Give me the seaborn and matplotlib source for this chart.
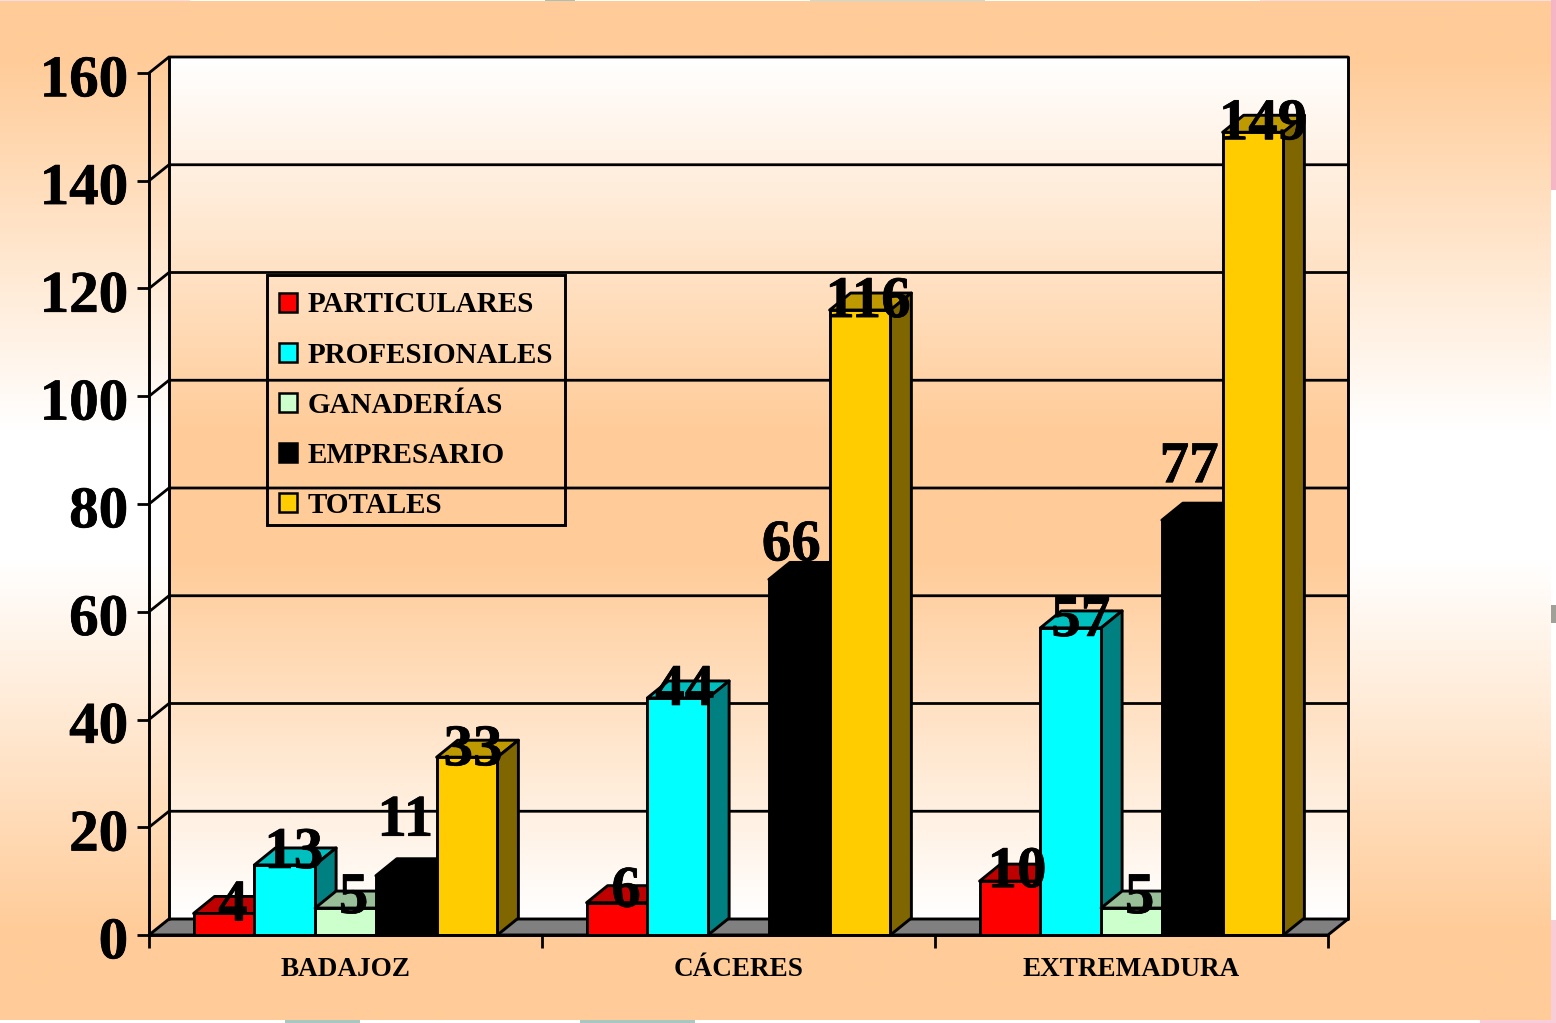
import numpy as np
import pandas as pd
import matplotlib
matplotlib.use("Agg")
import matplotlib.pyplot as plt
import matplotlib.patheffects as pe
import seaborn as sns
from matplotlib.colors import LinearSegmentedColormap, to_rgb
from matplotlib.patches import Patch, Polygon, Rectangle
from matplotlib.transforms import ScaledTranslation

provinces = ["BADAJOZ", "CÁCERES", "EXTREMADURA"]
series_names = ["PARTICULARES", "PROFESIONALES", "GANADERÍAS", "EMPRESARIO", "TOTALES"]
particulares = [4, 6, 10]
profesionales = [13, 44, 57]
ganaderias = [5, 0, 5]
empresario = [11, 66, 77]
totales = [33, 116, 149]
y_ticks = [0, 20, 40, 60, 80, 100, 120, 140, 160]

bar_colors = ["#FF0000", "#00FFFF", "#CCFFCC", "#000000", "#FFCC00"]
peach = "#FFCC99"

W, H = 1556, 1023
PX_X = 393.0        # pixels per category
PX_Y = 5.3875       # pixels per unit of value
DX = 20 / PX_X      # depth of the fake 3D, in data units
DY = 16 / PX_Y
BAR_DX = 21 / PX_X  # bars stick out slightly more than the walls
BAR_DY = 17 / PX_Y

# label nudges in pixels from the front top centre of each bar
label_dx = [[9, 9, 8, -1, 6], [9, 7, 0, -8, 8], [7, 10, 8, -3, 10]]
label_dy = [[7, 11, 9, 54, 6], [10, 7, 0, 33, 7], [8, 6, 9, 52, 7]]

sns.set_theme(style="white")
plt.rcParams["font.family"] = ["Liberation Serif", "DejaVu Serif"]
plt.rcParams["font.weight"] = "bold"
heavy = [pe.withStroke(linewidth=0.5, foreground="black")]

df = pd.DataFrame({
    "provincia": provinces * 5,
    "serie": [s for s in series_names for _ in provinces],
    "valor": particulares + profesionales + ganaderias + empresario + totales,
})

fig = plt.figure(figsize=(W / 100, H / 100), dpi=100, facecolor="white")

# slide background, peach -> white -> peach
bg = fig.add_axes([0, 0, 1, 1], zorder=0)
bg.axis("off")
ys = np.arange(1, 1021)
white_part = np.interp(ys, [0, 60, 430, 560, 930, 1020], [0, 0, 1, 1, 0, 0])
peach_rgb = np.array(to_rgb(peach))
panel = (peach_rgb + (1 - peach_rgb) * white_part[:, None])[:, None, :]
bg.imshow(panel, extent=(0, 1551, 1020, 1), aspect="auto")
bg.set_xlim(0, W)
bg.set_ylim(H, 0)
# bits of the picture behind the slide that show at the edges
for x0, y0, w, h, c in [(1260, 0, 296, 1, "#FBDDE6"), (0, 0, 190, 1, "#FBDDE6"),
                        (810, 0, 175, 1, "#C5DADA"), (545, 0, 30, 1, "#A8C0BC"),
                        (1551, 0, 5, 190, "#F6B4C8"), (1551, 605, 5, 18, "#A0A098"),
                        (1551, 920, 5, 103, "#F9CCDA"), (285, 1020, 75, 3, "#A8C6C2"),
                        (580, 1020, 115, 3, "#A8C6C2"), (1480, 1020, 76, 3, "#F9CCDA")]:
    bg.add_patch(Rectangle((x0, y0), w, h, fc=c, ec="none"))

ax = fig.add_axes([149 / W, 1 - 935 / H, (1328 - 149) / W, (935 - 73) / H], zorder=1)
ax.patch.set_alpha(0)

sns.barplot(data=df, x="provincia", y="valor", hue="serie", order=provinces,
            hue_order=series_names, palette=bar_colors, saturation=1,
            width=0.773, gap=0, edgecolor="black", linewidth=2.1, legend=False, ax=ax)

x0, x1, top = -0.5, 2.5, 160

# back wall has the opposite gradient to the slide, the side wall is see-through
wall_cmap = LinearSegmentedColormap.from_list(
    "wall", [(0, "#FFFFFF"), (0.434, peach), (0.585, peach), (1, "#FFFFFF")])
grad = np.linspace(0, 1, 400)[:, None]
ax.imshow(grad, cmap=wall_cmap, aspect="auto", zorder=0.5, clip_on=False,
          extent=(x0 + DX, x1 + DX, DY, top + DY))

# floor
ax.add_patch(Polygon([(x0, 0), (x1, 0), (x1 + DX, DY), (x0 + DX, DY)], closed=True,
                     fc="#808080", ec="black", lw=2.1, zorder=1, clip_on=False))

# gridlines run along the side wall and the back wall
for v in y_ticks[1:]:
    ax.plot([x0, x0 + DX, x1 + DX], [v, v + DY, v + DY], color="black", lw=2,
            zorder=1.2, clip_on=False, solid_joinstyle="miter")
ax.plot([x0 + DX, x0 + DX], [DY, top + DY], color="black", lw=2.1, zorder=1.2, clip_on=False)
ax.plot([x1 + DX, x1 + DX], [DY, top + DY], color="black", lw=2.1, zorder=1.2, clip_on=False)

# extrude the seaborn bars, left to right so each one hides the previous side face
for i, cont in enumerate(ax.containers):
    shade_color = np.array(to_rgb(bar_colors[i]))
    for j, bar in enumerate(cont):
        val = bar.get_height()
        z = 3 + j * 10 + i
        if val == 0:
            bar.set_visible(False)
            continue
        l = bar.get_x()
        r = l + bar.get_width()
        bar.set_zorder(z + 0.5)
        ax.add_patch(Polygon([(l, val), (r, val), (r + BAR_DX, val + BAR_DY), (l + BAR_DX, val + BAR_DY)],
                             fc=shade_color * 0.75, ec="black", lw=2.1, zorder=z,
                             clip_on=False, joinstyle="round"))
        ax.add_patch(Polygon([(r, 0), (r + BAR_DX, BAR_DY), (r + BAR_DX, val + BAR_DY), (r, val)],
                             fc=shade_color * 0.5, ec="black", lw=2.1, zorder=z,
                             clip_on=False, joinstyle="round"))
        ax.annotate(f"{val:.0f}", xy=(l + bar.get_width() / 2, val),
                    xytext=(label_dx[j][i], label_dy[j][i]), textcoords="offset pixels",
                    ha="center", va="center", fontsize=42.5, fontweight="bold",
                    color="black", zorder=100, annotation_clip=False, path_effects=heavy)

ax.set_xlim(x0, x1)
ax.set_ylim(0, top)
ax.set_xlabel("")
ax.set_ylabel("")
ax.set_yticks(y_ticks)
ax.set_xticks([0, 1, 2])
ax.set_xticks([-0.5, 0.5, 1.5, 2.5], minor=True)
ax.set_xticklabels(provinces, fontsize=19.5, fontweight="bold")
ax.tick_params(axis="x", which="major", length=0, pad=16, labelcolor="black")
ax.tick_params(axis="x", which="minor", length=9, width=2, color="black", bottom=True)
ax.tick_params(axis="y", length=9, width=2, color="black", left=True, pad=6, labelcolor="black")
down = ScaledTranslation(0, -2 / 72, fig.dpi_scale_trans)
for lab in ax.get_yticklabels():
    lab.set_fontsize(42.5)
    lab.set_fontweight("bold")
    lab.set_path_effects(heavy)
    lab.set_transform(lab.get_transform() + down)
sns.despine(ax=ax)
for side in ["left", "bottom"]:
    ax.spines[side].set_color("black")
    ax.spines[side].set_linewidth(2.1)
    ax.spines[side].set_zorder(50)

handles = [Patch(fc=c, ec="black", lw=1.8) for c in bar_colors]
leg = ax.legend(handles, series_names, loc="upper left", ncol=1,
                bbox_to_anchor=(267 / W, 1 - 279.5 / H), bbox_transform=fig.transFigure,
                borderaxespad=0, fontsize=21, frameon=False,
                handlelength=0.62, handleheight=0.62, handletextpad=0.35,
                labelspacing=0.795, borderpad=0.41)
leg.set_zorder(60)
for t in leg.get_texts():
    t.set_color("black")
# the frame is a little tighter than the one legend would size for itself
fig.add_artist(Rectangle((267 / W, 1 - 525 / H), 298 / W, 250 / H, fc="none", ec="black",
                         lw=2.1, transform=fig.transFigure, zorder=5))

fig.savefig("out.png", dpi=100)
